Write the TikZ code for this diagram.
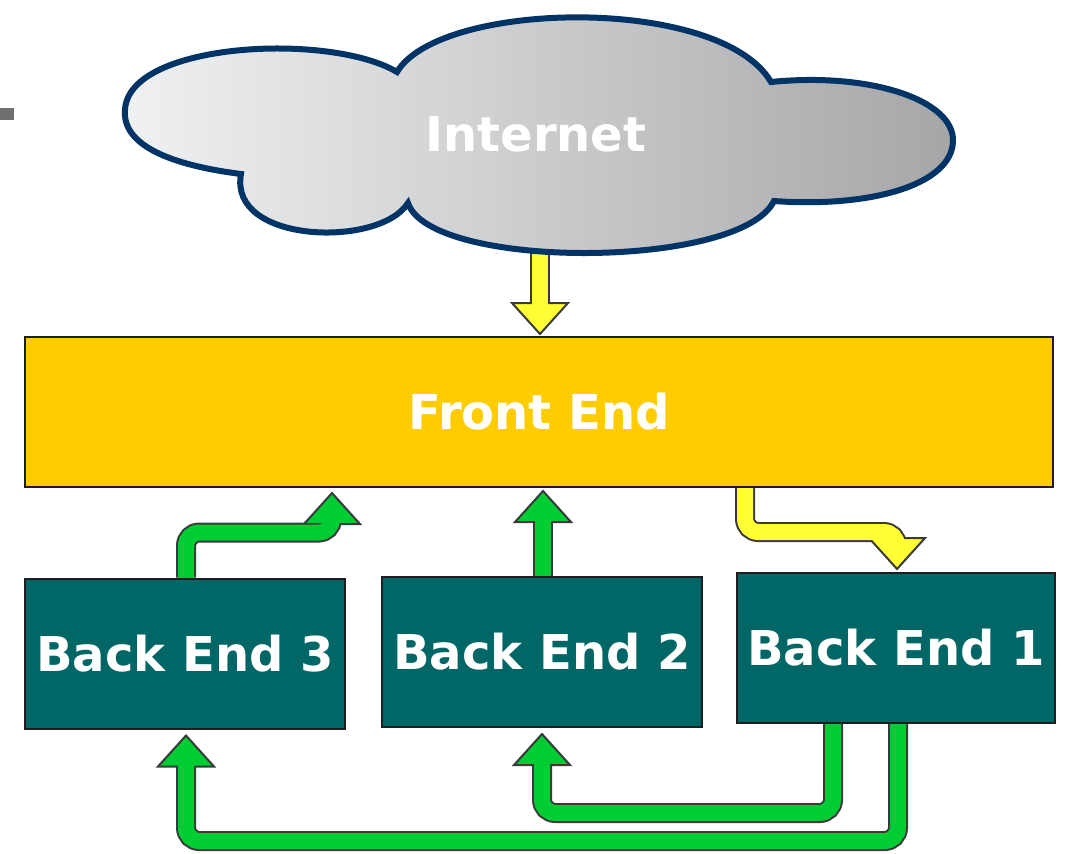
\documentclass[tikz,border=0pt]{standalone}
\usepackage{fontspec}
\setmainfont{DejaVu Sans}
\usetikzlibrary{calc}
\pgfdeclarelayer{bg}
\pgfsetlayers{bg,main}
\definecolor{feY}{HTML}{FFCC00}
\definecolor{beT}{HTML}{006666}
\definecolor{arY}{HTML}{FFFF33}
\definecolor{arG}{HTML}{00CC33}
\definecolor{arO}{HTML}{3A3A3A}
\definecolor{clB}{HTML}{003366}
\definecolor{clL}{HTML}{F0F1F3}
\definecolor{clR}{HTML}{A6A6A8}
\definecolor{boxO}{HTML}{1E1E1E}
\definecolor{frag}{HTML}{707070}
\tikzset{
  shaftout/.style={draw=arO, line width=15pt, rounded corners=10pt},
  shaftin/.style={draw=#1, line width=12pt, rounded corners=10pt},
  headtri/.style={fill=#1, draw=arO, line width=1.5pt, line join=miter},
  box/.style={draw=boxO, line width=1.5pt, inner sep=0pt, text=white,
    font=\fontsize{36}{40}\selectfont\bfseries, minimum height=112.5pt},
  cloudtxt/.style={text=white, font=\fontsize{36}{40}\selectfont\bfseries},
}
% #1 colour, #2 shaft path, #3 tip coordinate, #4 +1 for an upward head, -1 for a downward head
\newcommand\fatarrow[4]{%
  \draw[shaftout] #2;
  \path[headtri=#1] ($#3+(-28,#4*31)$) -- #3 -- ($#3+(28,#4*31)$) -- cycle;
  \draw[shaftin=#1] #2;
}
\begin{document}
\begin{tikzpicture}[x=0.75pt,y=-0.75pt]
\useasboundingbox (0,0) rectangle (1066,853);
% cut-off fragment at the left edge
\fill[frag] (0,108) rectangle (14,120);
% cloud
\draw[draw=clB, line width=4.5pt, left color=clL, right color=clR]
  (125,110) .. controls (128,42) and (330,32) .. (397,72)
  .. controls (440,0) and (720,-5) .. (771,82)
  .. controls (870,72) and (954,100) .. (953,141)
  .. controls (952,185) and (870,208) .. (774,201)
  .. controls (740,270) and (430,270) .. (408,203)
  .. controls (380,248) and (228,244) .. (241,174)
  .. controls (170,165) and (122,145) .. (125,110) -- cycle;
\node[cloudtxt] (inet) at (536,134) {Internet};
% boxes
\node[box, fill=feY, minimum width=771pt] (fe) at (539,412) {Front End};
\node[box, fill=beT, minimum width=240pt] (be3) at (185,653.5) {Back End 3};
\node[box, fill=beT, minimum width=240pt] (be2) at (542,652) {Back End 2};
\node[box, fill=beT, minimum width=238.5pt] (be1) at (896,648) {Back End 1};
% tips
\coordinate (tA) at ($(fe.north)+(1,-2)$);
\coordinate (tB) at ($(fe.south)+(-207,5)$);
\coordinate (tC) at ($(fe.south)+(4,3)$);
\coordinate (tD) at ($(be1.north)+(1,-3)$);
\coordinate (tE) at ($(be2.south)+(0,6)$);
\coordinate (tF) at ($(be3.south)+(1,6)$);
\coordinate (sA) at ($(fe.north)+(1,-92)$);
\begin{pgfonlayer}{bg}
\fatarrow{arY}{(sA) -- ($(tA)+(0,-28)$)}{(tA)}{-1}
\fatarrow{arG}{($(be3.north)+(1,0)$) -- ++(0,-45) -| ($(tB)+(0,28)$)}{(tB)}{1}
\fatarrow{arG}{($(be2.north)+(1,0)$) -- ($(tC)+(0,28)$)}{(tC)}{1}
\fatarrow{arY}{($(fe.south)+(206,0)$) -- ++(0,44) -| ($(tD)+(0,-28)$)}{(tD)}{-1}
\fatarrow{arG}{($(be1.south)+(-63,0)$) -- ++(0,89) -| ($(tE)+(0,28)$)}{(tE)}{1}
\fatarrow{arG}{($(be1.south)+(2,0)$) -- ++(0,117) -| ($(tF)+(0,28)$)}{(tF)}{1}
\end{pgfonlayer}
\end{tikzpicture}
\end{document}
